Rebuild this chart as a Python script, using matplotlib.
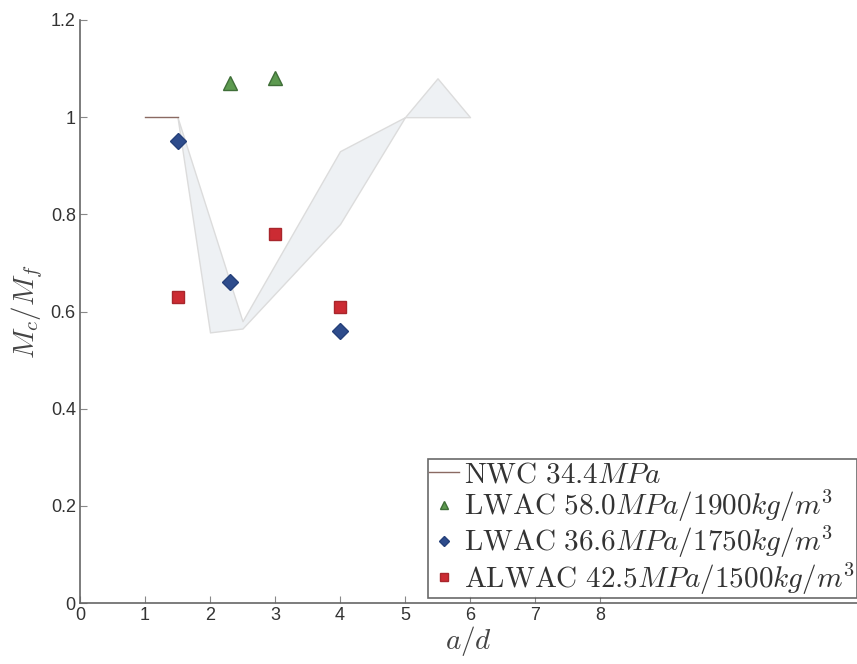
import matplotlib
matplotlib.use("Agg")
import matplotlib.pyplot as plt
import numpy as np

plt.rcParams['mathtext.fontset'] = 'cm'
plt.rcParams['font.family'] = ['Liberation Sans', 'DejaVu Sans']

# NWC reference line
nwc_x = [1.0, 1.5]
nwc_y = [1.0, 1.0]

# NWC band (upper / lower envelope)
band_x = [1.5, 2.0, 2.5, 4.0, 5.0, 5.5, 6.0]
band_upper = [1.0, 0.79, 0.58, 0.93, 1.0, 1.08, 1.0]
band_lower = [1.0, 0.557, 0.565, 0.78, 1.0, 1.0, 1.0]

# LWAC 58.0 MPa / 1900
lw58_x = [2.3, 3.0]
lw58_y = [1.07, 1.08]

# LWAC 36.6 MPa / 1750
lw36_x = [1.5, 2.3, 4.0]
lw36_y = [0.95, 0.66, 0.56]

# ALWAC 42.5 MPa / 1500
al_x = [1.5, 3.0, 4.0]
al_y = [0.63, 0.76, 0.61]

xticks = [0, 1, 2, 3, 4, 5, 6, 7, 8]
yticks = [0, 0.2, 0.4, 0.6, 0.8, 1.0, 1.2]
ytick_labels = ['0', '0.2', '0.4', '0.6', '0.8', '1', '1.2']

fig = plt.figure(figsize=(8.57, 6.64), dpi=100)
ax = fig.add_axes([80/857, (664-603)/664, 1 - 80/857, (603-20)/664])

ax.fill_between(band_x, band_lower, band_upper, facecolor='#eef1f4',
                edgecolor='#dcdcdc', linewidth=1.0, zorder=1)
ax.plot(nwc_x, nwc_y, color='#8a6a62', lw=1.0, zorder=2,
        label=r'$\mathrm{NWC\ 34.4}MPa$')
ax.plot(lw58_x, lw58_y, linestyle='none', marker='^', markersize=10,
        markerfacecolor='#5d9a50', markeredgecolor='#3f6e38', zorder=3,
        label=r'$\mathrm{LWAC\ 58.0}MPa/1900kg/m^3$')
ax.plot(lw36_x, lw36_y, linestyle='none', marker='D', markersize=8,
        markerfacecolor='#2e4c8c', markeredgecolor='#25407a', zorder=3,
        label=r'$\mathrm{LWAC\ 36.6}MPa/1750kg/m^3$')
ax.plot(al_x, al_y, linestyle='none', marker='s', markersize=8.5,
        markerfacecolor='#cc2b33', markeredgecolor='#a8262c', zorder=3,
        label=r'$\mathrm{ALWAC\ 42.5}MPa/1500kg/m^3$')

ax.set_xlim(0, 777/65)
ax.set_ylim(0, 1.2)
ax.set_xticks(xticks)
ax.set_xticklabels([str(t) for t in xticks])
ax.set_yticks(yticks)
ax.set_yticklabels(ytick_labels)

for s in ['top', 'right']:
    ax.spines[s].set_visible(False)
for s in ['left', 'bottom']:
    ax.spines[s].set_color('#666666')
    ax.spines[s].set_linewidth(1.2)

ax.tick_params(direction='in', length=5, width=0.8, colors='#888888',
               labelcolor='#333333', labelsize=13)
ax.tick_params(axis='y', pad=3)
ax.tick_params(axis='x', pad=3)

ax.set_xlabel(r'$a/d$', fontsize=21, color='#444444', labelpad=0)
ax.set_ylabel(r'$M_c/M_f$', fontsize=21, color='#444444', labelpad=4)

leg = ax.legend(loc='lower right', fontsize=21,
                frameon=True, fancybox=False, handlelength=1.0,
                handletextpad=0.2, borderpad=0.05, labelspacing=0.0,
                borderaxespad=0, markerscale=0.6)
leg.get_frame().set_edgecolor('#444444')
leg.get_frame().set_linewidth(1.2)
for t in leg.get_texts():
    t.set_color('#333333')
leg.set_bbox_to_anchor((857/857, (664-598)/664), transform=fig.transFigure)

fig.savefig('out.png', dpi=100)
